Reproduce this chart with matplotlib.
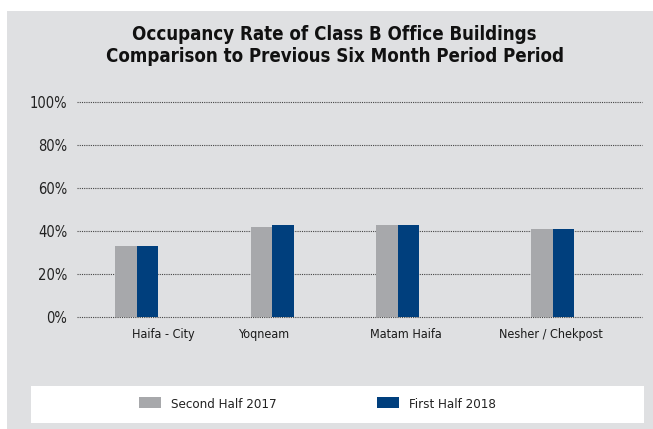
import matplotlib.pyplot as plt
from matplotlib.patches import Rectangle, Patch

plt.rcParams['font.family'] = ['DejaVu Sans']
plt.rcParams['font.stretch'] = 'condensed'

categories = ["Haifa - City", "Yoqneam", "Matam Haifa", "Nesher / Chekpost"]
second_half_2017 = [33, 42, 43, 41]
first_half_2018 = [33, 43, 43, 41]
y_ticks = [0, 20, 40, 60, 80, 100]
y_tick_labels = ["0%", "20%", "40%", "60%", "80%", "100%"]

# layout (axis units, xlim 0..5)
bar_pos = [0.53, 1.73, 2.84, 4.21]
label_pos = [0.76, 1.65, 2.91, 4.19]
bar_w = 0.19

grey = "#a7a8ab"
blue = "#003f7d"
bg = "#dfe0e2"

W, H = 653, 429
fig = plt.figure(figsize=(W / 100, H / 100), dpi=100)
fig.patch.set_facecolor("white")
fig.patches.append(Rectangle((7 / W, 0), 1 - 7 / W, 1 - 11 / H,
                             transform=fig.transFigure, facecolor=bg, edgecolor="none", zorder=-2))
fig.patches.append(Rectangle((31 / W, 6 / H), (644 - 31) / W, 37 / H,
                             transform=fig.transFigure, facecolor="white", edgecolor="none", zorder=-1))

ax = fig.add_axes([77 / W, 1 - 317 / H, (642 - 77) / W, (317 - 102) / H])
ax.set_facecolor("none")
ax.set_zorder(2)

ax.bar([p - bar_w / 2 for p in bar_pos], second_half_2017, width=bar_w, color=grey, zorder=3)
ax.bar([p + bar_w / 2 for p in bar_pos], first_half_2018, width=bar_w, color=blue, zorder=3)

ax.set_xlim(0, 5)
ax.set_ylim(0, 100)
ax.set_yticks(y_ticks)
ax.set_yticklabels(y_tick_labels, fontsize=10.5, color="#222222")
ax.set_xticks(label_pos)
ax.set_xticklabels(categories, fontsize=9, color="#1a1a1a")
ax.tick_params(axis="both", length=0)
ax.tick_params(axis="x", pad=8)
ax.tick_params(axis="y", pad=7)
for s in ax.spines.values():
    s.set_visible(False)
ax.yaxis.grid(True, linestyle=(0, (1, 1)), color="#444444", linewidth=0.8, zorder=1)
ax.set_axisbelow(True)
for line in ax.get_ygridlines():
    line.set_clip_on(False)

fig.text(334 / W, 1 - 35 / H, "Occupancy Rate of Class B Office Buildings",
         ha="center", va="center", fontsize=13.4, fontweight="bold", color="#111111")
fig.text(335 / W, 1 - 56 / H, "Comparison to Previous Six Month Period Period",
         ha="center", va="center", fontsize=13.4, fontweight="bold", color="#111111")

handles = [Patch(facecolor=grey, label="Second Half 2017"),
           Patch(facecolor=blue, label="First Half 2018")]
leg = fig.legend(handles=handles, loc="center left", bbox_to_anchor=(139 / W, 1 - 404 / H),
                 ncol=2, frameon=False, fontsize=9.5, borderpad=0, borderaxespad=0,
                 handlelength=1.67, handleheight=0.9, handletextpad=0.75, columnspacing=7.6)
for t in leg.get_texts():
    t.set_color("#222222")

fig.savefig("out.png", dpi=100)
